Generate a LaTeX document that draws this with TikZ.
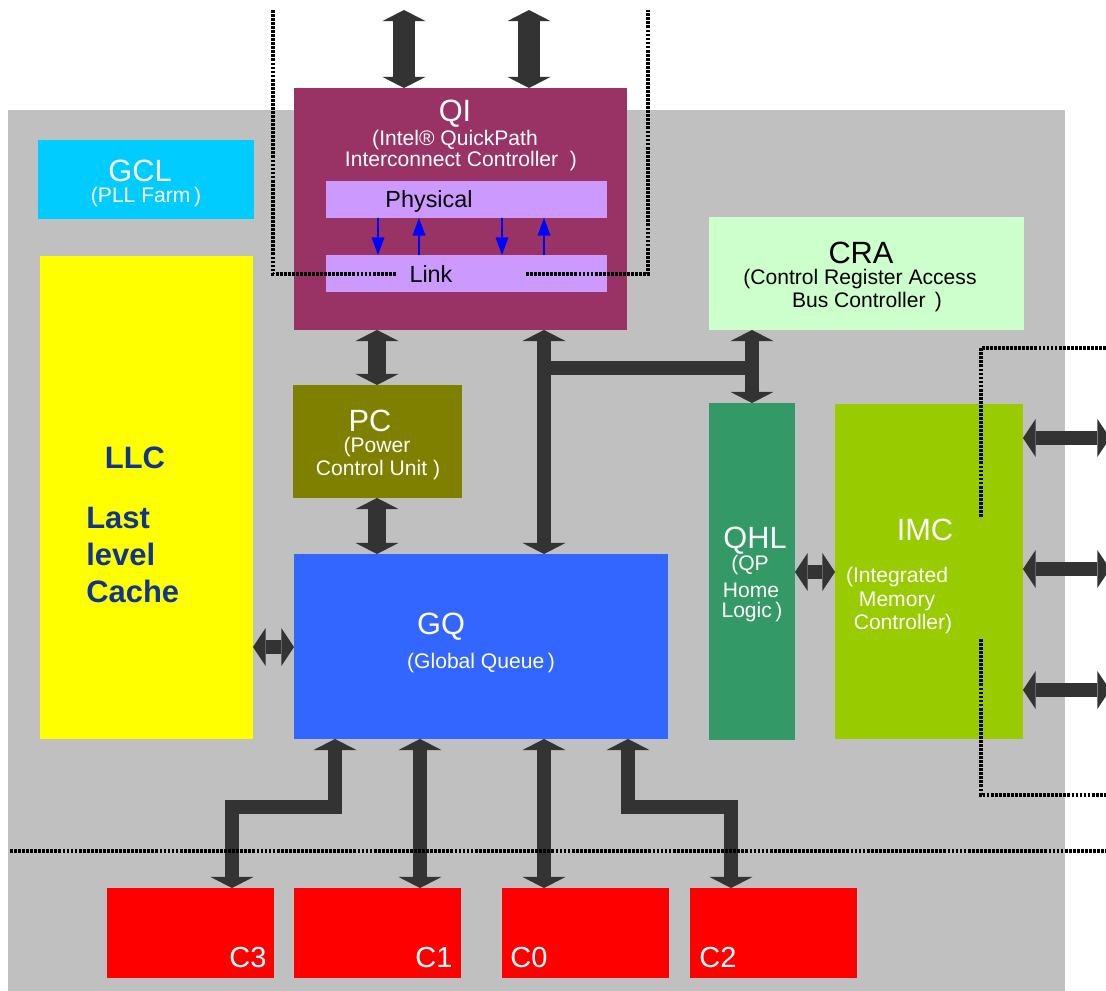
\documentclass[tikz,border=0pt]{standalone}
\usepackage{fontspec}
\setmainfont{Liberation Sans}
\usetikzlibrary{arrows.meta}

\definecolor{chipgray}{HTML}{C0C0C0}
\definecolor{busgray}{HTML}{333333}
\definecolor{gclblue}{HTML}{00CCFF}
\definecolor{llcyellow}{HTML}{FFFF00}
\definecolor{llcblue}{RGB}{16,52,146}
\definecolor{qipurple}{HTML}{993366}
\definecolor{layerlilac}{HTML}{CC99FF}
\definecolor{cragreen}{HTML}{CCFFCC}
\definecolor{pcolive}{HTML}{808000}
\definecolor{gqblue}{HTML}{3366FF}
\definecolor{qhlgreen}{HTML}{339966}
\definecolor{imcgreen}{HTML}{99CC00}
\definecolor{corered}{HTML}{FF0000}

\tikzset{
  blk/.style={anchor=north west, inner sep=0pt, outer sep=0pt},
  ttl/.style={inner sep=0pt, font=\fontsize{17.5}{20}\selectfont},
  sub/.style={inner sep=0pt, font=\fontsize{12}{14}\selectfont},
  bus/.style={draw=busgray, line width=#1, line join=miter,
    {Triangle[width=24.5pt,length=6.3pt,line width=0pt]}-{Triangle[width=24.5pt,length=6.3pt,line width=0pt]}},
  bus/.default=8.5pt,
  sbus/.style={draw=busgray, line width=8pt,
    {Triangle[width=21.6pt,length=7.2pt,line width=0pt]}-{Triangle[width=21.6pt,length=7.2pt,line width=0pt]}},
  sig/.style={draw=blue, line width=1.2pt, -{Triangle[width=7.4pt,length=10pt,line width=0pt]}},
  probe/.style={draw=black, line width=1.8pt, dash pattern=on 1.6pt off 0.7pt},
}

\begin{document}
\begin{tikzpicture}[x=0.02cm, y=-0.02cm]
  \clip (0,0) rectangle (1106,991);
  \fill[chipgray] (8,110) rectangle (1065,991);

  % blocks
  \node[blk, fill=gclblue, minimum width=4.32cm, minimum height=1.58cm] (GCL) at (38,140) {};
  \node[blk, fill=llcyellow, minimum width=4.26cm, minimum height=9.66cm] (LLC) at (40,256) {};
  \node[blk, fill=qipurple, minimum width=6.66cm, minimum height=4.84cm] (QI) at (294,88) {};
  \node[blk, fill=layerlilac, minimum width=5.62cm, minimum height=0.74cm] (Phys) at (326,181) {};
  \node[blk, fill=layerlilac, minimum width=5.62cm, minimum height=0.74cm] (Link) at (326,255) {};
  \node[blk, fill=cragreen, minimum width=6.30cm, minimum height=2.26cm] (CRA) at (709,217) {};
  \node[blk, fill=pcolive, minimum width=3.38cm, minimum height=2.26cm] (PC) at (293,385) {};
  \node[blk, fill=gqblue, minimum width=7.48cm, minimum height=3.70cm] (GQ) at (294,554) {};
  \node[blk, fill=qhlgreen, minimum width=1.72cm, minimum height=6.74cm] (QHL) at (709,403) {};
  \node[blk, fill=imcgreen, minimum width=3.76cm, minimum height=6.70cm] (IMC) at (835,404) {};
  \node[blk, fill=corered, minimum width=3.34cm, minimum height=1.80cm] (C3) at (107,888) {};
  \node[blk, fill=corered, minimum width=3.34cm, minimum height=1.80cm] (C1) at (294,888) {};
  \node[blk, fill=corered, minimum width=3.34cm, minimum height=1.80cm] (C0) at (502,888) {};
  \node[blk, fill=corered, minimum width=3.34cm, minimum height=1.80cm] (C2) at (690,888) {};

  % labels
  \node[ttl, white] (gcltitle) at (140,171) {GCL};
  \node[sub, white] (gclsub) at (146,197) {(PLL Farm\,)};
  \node[inner sep=0pt, llcblue, font=\fontsize{17.6}{21}\selectfont\bfseries] (llctitle) at (135,458) {LLC};
  \node[anchor=west, align=left, inner sep=0pt, llcblue, font=\fontsize{17.6}{21}\selectfont\bfseries] (llcname) at (86,555) {Last\\level\\Cache};
  \node[ttl, white] (qititle) at (455,114) {QI};
  \node[sub, white] (qisub1) at (455,140) {(Intel® QuickPath};
  \node[sub, white] (qisub2) at (461,161) {Interconnect Controller\ \ )};
  \node[inner sep=0pt, font=\fontsize{13.3}{15}\selectfont] (physname) at (429,201) {Physical};
  \node[inner sep=0pt, font=\fontsize{13.3}{15}\selectfont] (linkname) at (431,274) {Link};
  \node[ttl] (cratitle) at (861,253) {CRA};
  \node[sub] (crasub1) at (860,279) {(Control Register Access};
  \node[sub] (crasub2) at (867,302) {Bus Controller\ \,)};
  \node[ttl, white] (pctitle) at (370,421) {PC};
  \node[sub, white] (pcsub1) at (377,447) {(Power};
  \node[sub, white] (pcsub2) at (378,470) {Control Unit\ )};
  \node[ttl, white] (gqtitle) at (441,627) {GQ};
  \node[sub, white] (gqsub) at (481,663) {(Global Queue\,)};
  \node[ttl, white] (qhltitle) at (755,541) {QHL};
  \node[sub, white] (qhlsub1) at (750,565) {(QP};
  \node[sub, white] (qhlsub2) at (751,590) {Home};
  \node[sub, white] (qhlsub3) at (752,612) {Logic\,)};
  \node[ttl, white] (imctitle) at (925,530) {IMC};
  \node[sub, white] (imcsub1) at (897,577) {(Integrated};
  \node[sub, white] (imcsub2) at (897,601) {Memory};
  \node[sub, white] (imcsub3) at (903,624) {Controller)};
  \node[inner sep=0pt, white, font=\fontsize{16.5}{18}\selectfont] (c3name) at (248,958) {C3};
  \node[inner sep=0pt, white, font=\fontsize{16.5}{18}\selectfont] (c1name) at (434,958) {C1};
  \node[inner sep=0pt, white, font=\fontsize{16.5}{18}\selectfont] (c0name) at (529,958) {C0};
  \node[inner sep=0pt, white, font=\fontsize{16.5}{18}\selectfont] (c2name) at (718,958) {C2};

  % free ends
  \coordinate (qiext1) at (404,10);
  \coordinate (qiext2) at (529,10);
  \coordinate (mem1) at (1110,438);
  \coordinate (mem2) at (1110,569);
  \coordinate (mem3) at (1110,690);
  \coordinate (tapl) at (544,368);
  \coordinate (tapr) at (752,368);

  % buses
  \draw[bus=12.5pt] (qiext1) -- (QI.north -| qiext1);
  \draw[bus=12.5pt] (qiext2) -- (QI.north -| qiext2);
  \draw[bus=10.2pt] (QI.south -| 377,0) -- (PC.north -| 377,0);
  \draw[bus=10.2pt] (PC.south -| 377,0) -- (GQ.north -| 377,0);
  \draw[bus] (QI.south -| tapl) -- (GQ.north -| tapl);
  \draw[draw=busgray, line width=8.5pt] (tapl) -- (tapr);
  \draw[bus] (CRA.south -| QHL.north) -- (QHL.north);
  \draw[sbus] (LLC.east |- 0,647) -- (GQ.west |- 0,647);
  \draw[sbus] (QHL.east |- 0,572) -- (IMC.west |- 0,572);
  \draw[sbus] (IMC.east |- mem1) -- (mem1);
  \draw[sbus] (IMC.east |- mem2) -- (mem2);
  \draw[sbus] (IMC.east |- mem3) -- (mem3);
  \draw[bus=8pt] (GQ.south -| 335,0) |- (232,807) -- (C3.north -| 232,0);
  \draw[bus=8pt] (GQ.south -| 420,0) -- (C1.north -| 420,0);
  \draw[bus=8pt] (GQ.south -| 544,0) -- (C0.north -| 544,0);
  \draw[bus=8pt] (GQ.south -| 628,0) |- (731,807) -- (C2.north -| 731,0);

  % physical <-> link
  \draw[sig] (Phys.south -| 378,0) -- (Link.north -| 378,0);
  \draw[sig] (Link.north -| 419,0) -- (Phys.south -| 419,0);
  \draw[sig] (Phys.south -| 502,0) -- (Link.north -| 502,0);
  \draw[sig] (Link.north -| 544,0) -- (Phys.south -| 544,0);

  % dotted boundaries
  \coordinate (qiprobe1) at (273,10);
  \coordinate (qiprobe2) at (396,274);
  \coordinate (qiprobe3) at (526,274);
  \coordinate (qiprobe4) at (648,10);
  \coordinate (memprobe1) at (1110,348);
  \coordinate (memprobe2) at (981,517);
  \coordinate (memprobe3) at (981,639);
  \coordinate (memprobe4) at (1110,795);
  \coordinate (coreline1) at (10,851);
  \coordinate (coreline2) at (1110,851);
  \draw[probe] (qiprobe1) |- (qiprobe2);
  \draw[probe] (qiprobe3) -| (qiprobe4);
  \draw[probe] (memprobe1) -| (memprobe2);
  \draw[probe] (memprobe3) |- (memprobe4);
  \draw[probe] (coreline1) -- (coreline2);
\end{tikzpicture}
\end{document}
